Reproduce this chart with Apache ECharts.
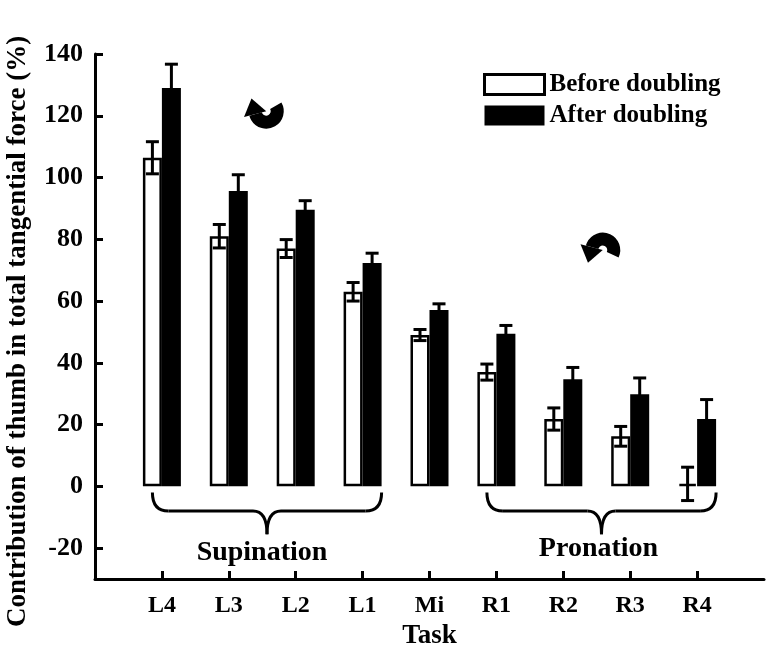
<!DOCTYPE html>
<html><head><meta charset="utf-8">
<script src="https://cdn.jsdelivr.net/npm/echarts@6/dist/echarts.min.js"></script>
<style>html,body{margin:0;padding:0;background:#fff}#c{width:772px;height:651px}</style>
</head><body><div id="c"></div>
<script>
const tasks = ['L4','L3','L2','L1','Mi','R1','R2','R3','R4'];
const beforeVals = [106.4, 81.0, 77.0, 63.0, 49.0, 37.0, 21.8, 16.2, 0.8];
const beforeErr  = [5.2, 3.8, 2.9, 3.0, 1.8, 2.6, 3.6, 3.2, 5.4];
const afterVals  = [129.0, 95.6, 89.6, 72.3, 57.1, 49.4, 34.7, 29.8, 21.8];
const afterErr   = [7.7, 5.3, 2.9, 3.2, 2.0, 2.7, 3.8, 5.3, 6.3];
const yTicks = [-20, 0, 20, 40, 60, 80, 100, 120, 140];
const seriesNames = ['Before doubling', 'After doubling'];
const groupLabels = ['Supination', 'Pronation'];

const FONT = '"Liberation Serif", "Times New Roman", serif';
const BW = 19;
const chart = echarts.init(document.getElementById('c'), null, {renderer: 'canvas'});

function errSeries(vals, errs, side) {
  return {
    type: 'custom', silent: true, z: 5,
    encode: {x: 0, y: 1},
    data: vals.map((v, i) => [i + 1, v, errs[i]]),
    renderItem(params, api) {
      const x = api.value(0), v = api.value(1), e = api.value(2);
      const top = api.coord([x, v + e]);
      const bot = api.coord([x, v - e]);
      const cx = top[0] + side * BW / 2;
      const cap = 6.5;
      const st = {stroke: '#000', lineWidth: 3};
      return {type: 'group', children: [
        {type: 'line', shape: {x1: cx, y1: top[1], x2: cx, y2: bot[1]}, style: st},
        {type: 'line', shape: {x1: cx - cap, y1: top[1], x2: cx + cap, y2: top[1]}, style: st},
        {type: 'line', shape: {x1: cx - cap, y1: bot[1], x2: cx + cap, y2: bot[1]}, style: st}
      ]};
    }
  };
}

const lbl = {fontFamily: FONT, fontWeight: 'bold', color: '#000'};

chart.setOption({
  animation: false,
  grid: {left: 95, right: 8, top: 54, bottom: 72, containLabel: false, outerBoundsMode: 'none'},
  legend: {
    orient: 'vertical', left: 483, top: 72, padding: 0, itemWidth: 60, itemHeight: 20, itemGap: 6,
    textStyle: Object.assign({fontSize: 25, padding: [0, 0, 0, 0]}, lbl),
    data: [
      {name: seriesNames[0], icon: 'rect', itemStyle: {color: '#fff', borderColor: '#000', borderWidth: 3}},
      {name: seriesNames[1], icon: 'rect', itemStyle: {color: '#000', borderWidth: 0}}
    ]
  },
  xAxis: {
    type: 'category', data: ['', ...tasks, ''], boundaryGap: false,
    name: 'Task', nameLocation: 'middle', nameGap: 41,
    nameTextStyle: Object.assign({fontSize: 27}, lbl),
    axisLine: {onZero: false, lineStyle: {color: '#000', width: 3}},
    axisTick: {inside: true, length: 8, interval: (i) => i > 0 && i <= tasks.length, lineStyle: {color: '#000', width: 3}},
    axisLabel: Object.assign({interval: 0, margin: 15, fontSize: 24}, lbl),
    splitLine: {show: false}
  },
  yAxis: {
    type: 'value', min: -30, max: 140,
    name: 'Contribution of thumb in total tangential force (%)',
    nameLocation: 'middle', nameGap: 63,
    nameTextStyle: Object.assign({fontSize: 27, padding: [0, 30, 0, 0]}, lbl),
    axisLine: {show: true, lineStyle: {color: '#000', width: 3}},
    axisTick: {show: true, inside: true, length: 8, customValues: yTicks, lineStyle: {color: '#000', width: 3}},
    axisLabel: Object.assign({customValues: yTicks, margin: 12, fontSize: 26}, lbl),
    splitLine: {show: false}
  },
  series: [
    {name: seriesNames[0], type: 'bar', barWidth: BW, barGap: '0%',
     data: [null, ...beforeVals, null],
     itemStyle: {color: '#fff', borderColor: '#000', borderWidth: 2.5}},
    {name: seriesNames[1], type: 'bar', barWidth: BW, barGap: '0%',
     data: [null, ...afterVals, null],
     itemStyle: {color: '#000'}},
    errSeries(beforeVals, beforeErr, -1),
    errSeries(afterVals, afterErr, 1)
  ]
});

// annotations positioned through the axes
const px = (i, v) => chart.convertToPixel({xAxisIndex: 0, yAxisIndex: 0}, [i, v]);
const st = {stroke: '#000', lineWidth: 3, fill: null};
function brace(i0, i1) {
  const xL = px(i0, 0)[0] - BW / 2, xR = px(i1, 0)[0] + BW;
  const y0 = px(i0, -2)[1], y1 = px(i0, -8)[1], y2 = px(i0, -15.5)[1];
  const xm = (xL + xR) / 2, r = 16, rm = 14;
  return [
    {type: 'bezierCurve', shape: {x1: xL, y1: y0, cpx1: xL, cpy1: y1, x2: xL + r, y2: y1}, style: st},
    {type: 'line', shape: {x1: xL + r, y1: y1, x2: xm - rm, y2: y1}, style: st},
    {type: 'bezierCurve', shape: {x1: xm - rm, y1: y1, cpx1: xm, cpy1: y1, x2: xm, y2: y2}, style: st},
    {type: 'bezierCurve', shape: {x1: xm, y1: y2, cpx1: xm, cpy1: y1, x2: xm + rm, y2: y1}, style: st},
    {type: 'line', shape: {x1: xm + rm, y1: y1, x2: xR - r, y2: y1}, style: st},
    {type: 'bezierCurve', shape: {x1: xR - r, y1: y1, cpx1: xR, cpy1: y1, x2: xR, y2: y0}, style: st}
  ];
}
function curvedArrow(cx, cy, cw) {
  const r = 11, w = 13, D = Math.PI / 180;
  const a0 = cw ? -30 * D : 25 * D;
  const a1 = cw ? 165 * D : -165 * D;
  const ex = cx + r * Math.cos(a1), ey = cy + r * Math.sin(a1);
  const tx = cw ? -Math.sin(a1) : Math.sin(a1), ty = cw ? Math.cos(a1) : -Math.cos(a1);
  const ri = r - 11, ro = r + 12;
  const pts = [
    [cx + ri * Math.cos(a1), cy + ri * Math.sin(a1)],
    [cx + ro * Math.cos(a1), cy + ro * Math.sin(a1)],
    [ex + tx * 16, ey + ty * 16]
  ];
  return [
    {type: 'arc', shape: {cx, cy, r, startAngle: a0, endAngle: a1, clockwise: cw}, style: {stroke: '#000', lineWidth: w, fill: null}},
    {type: 'polygon', shape: {points: pts}, style: {fill: '#000'}}
  ];
}
const b1 = brace(1, 4), b2 = brace(6, 9);
const xm1 = (px(1, 0)[0] - BW / 2 + px(4, 0)[0] + BW) / 2;
const xm2 = (px(6, 0)[0] - BW / 2 + px(9, 0)[0] + BW) / 2;
const yt = px(1, -21.5)[1];
const a1x = (px(2, 0)[0] + px(3, 0)[0]) / 2 + 4, a1y = px(2, 121.5)[1];
const a2x = (px(7, 0)[0] + px(8, 0)[0]) / 2 + 6, a2y = px(7, 76.5)[1];
const tf = {fill: '#000', fontFamily: FONT, fontWeight: 'bold', fontSize: 28, align: 'center', verticalAlign: 'middle'};
chart.setOption({
  graphic: [
    ...b1, ...b2,
    {type: 'text', style: Object.assign({text: groupLabels[0], x: xm1 - 5, y: yt}, tf)},
    {type: 'text', style: Object.assign({text: groupLabels[1], x: xm2 - 3, y: yt - 4}, tf)},
    ...curvedArrow(a1x, a1y, true),
    ...curvedArrow(a2x, a2y, false)
  ]
});
</script></body></html>
